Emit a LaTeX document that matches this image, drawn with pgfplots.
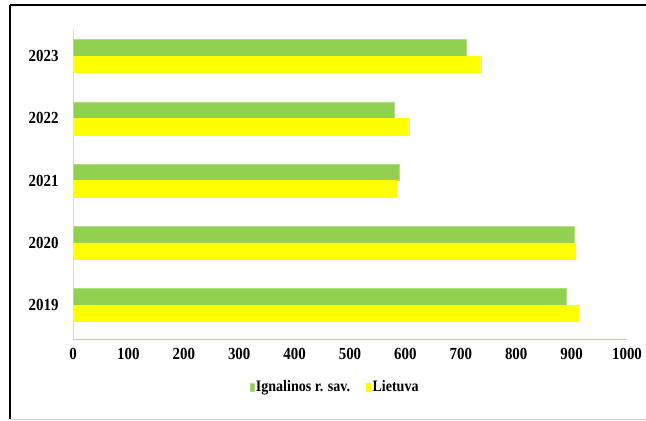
\documentclass[border=0pt]{standalone}
\usepackage{fontspec}
\setmainfont{Liberation Serif}[FakeStretch=0.88]
\usepackage{pgfplots}
\pgfplotsset{compat=1.18}
\definecolor{cgreen}{HTML}{92D050}
\definecolor{cyellow}{HTML}{FFFF00}
\definecolor{yaxis}{HTML}{D9D9D9}
\definecolor{xaxis}{HTML}{B4C7E7}
\begin{document}
\begin{tikzpicture}
\path[use as bounding box] (0bp,0bp) rectangle (646bp,421bp);
\draw[black,line width=1.5bp] (10bp,2bp) -- (10bp,416bp);
\draw[black,line width=1.5bp] (10bp,416bp) -- (646bp,416bp);
\draw[gray!40,line width=0.8bp] (10bp,2bp) -- (646bp,2bp);
\begin{axis}[
  at={(73bp,82bp)}, anchor=south west,
  width=554bp, height=309bp, scale only axis,
  xbar,
  xmin=0, xmax=1000,
  ymin=-0.546, ymax=4.418,
  bar width=0.265,
  axis x line*=bottom, axis y line*=left,
  x axis line style={draw=xaxis,line width=0.8bp,-},
  y axis line style={draw=yaxis,line width=0.8bp,-},
  xtick={0,100,...,1000},
  ytick={0,1,2,3,4},
  yticklabels={2019,2020,2021,2022,2023},
  major tick length=0pt,
  xticklabel style={font=\fontsize{17}{17}\selectfont\bfseries, yshift=-6bp},
  yticklabel style={font=\fontsize{17}{17}\selectfont\bfseries, xshift=-11bp},
  /pgf/number format/assume math mode=true,
  /pgf/number format/1000 sep={},
  legend style={at={(0.473,-0.155)}, anchor=center, draw=none,
    font=\fontsize{16}{16}\selectfont\bfseries, legend columns=2,
    /tikz/every even column/.append style={column sep=14bp},
    inner sep=0pt},
  legend image code/.code={\fill[#1] (0bp,-4bp) rectangle (4bp,4bp);},
]
\addplot[fill=cgreen, draw=cgreen!70!white, bar shift=0.1325] coordinates {
 (890,0) (904,1) (588,2) (579,3) (709,4)};
\addplot[fill=cyellow, draw=cyellow, bar shift=-0.1325] coordinates {
 (912,0) (906,1) (583,2) (606,3) (736,4)};
\legend{Ignalinos r. sav., Lietuva}
\end{axis}
\end{tikzpicture}
\end{document}
